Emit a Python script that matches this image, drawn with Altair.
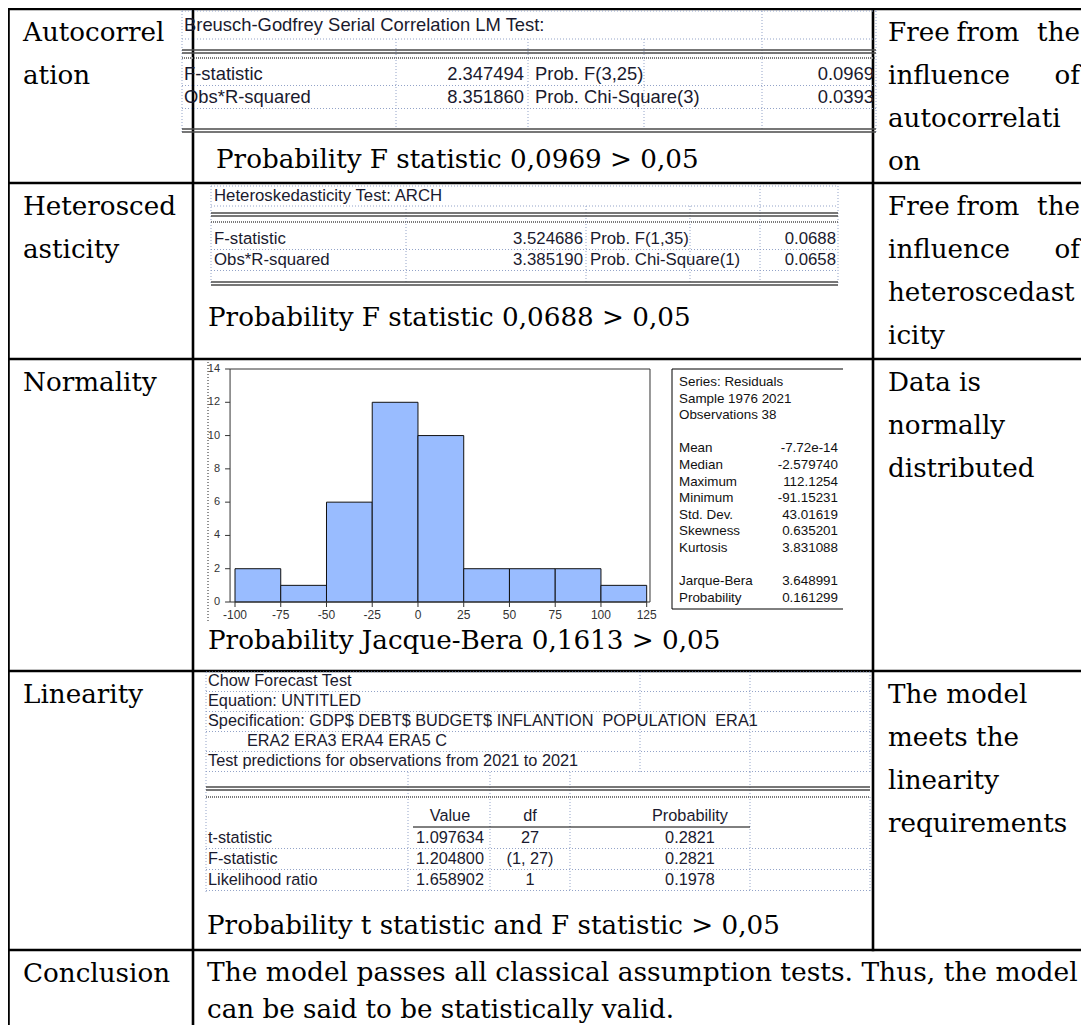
import altair as alt
import pandas as pd

# ---------------- content ----------------
TEST_NAMES = [["Autocorrel", "ation"], ["Heterosced", "asticity"], ["Normality"], ["Linearity"], ["Conclusion"]]
VERDICTS = [
    ["Free from the", "influence of", "autocorrelati", "on"],
    ["Free from the", "influence of", "heteroscedast", "icity"],
    ["Data is", "normally", "distributed"],
    ["The model", "meets the", "linearity", "requirements"],
]
VERDICT_JUSTIFIED = [[True, True, False, False], [True, True, False, False],
                     [False, False, False], [False, False, False, False]]
CAPTIONS = [
    "Probability F statistic 0,0969 > 0,05",
    "Probability F statistic 0,0688 > 0,05",
    "Probability Jacque-Bera 0,1613 > 0,05",
    "Probability t statistic and F statistic > 0,05",
]
CONCLUSION = [
    "The model passes all classical assumption tests. Thus, the model",
    "can be said to be statistically valid.",
]

AC_TITLE = "Breusch-Godfrey Serial Correlation LM Test:"
AC_LABELS = ["F-statistic", "Obs*R-squared"]
AC_VALUES = ["2.347494", "8.351860"]
AC_PROB_LABELS = ["Prob. F(3,25)", "Prob. Chi-Square(3)"]
AC_PROBS = ["0.0969", "0.0393"]

HET_TITLE = "Heteroskedasticity Test: ARCH"
HET_LABELS = ["F-statistic", "Obs*R-squared"]
HET_VALUES = ["3.524686", "3.385190"]
HET_PROB_LABELS = ["Prob. F(1,35)", "Prob. Chi-Square(1)"]
HET_PROBS = ["0.0688", "0.0658"]

HIST_BIN_START = [-100, -75, -50, -25, 0, 25, 50, 75, 100]
HIST_COUNTS = [2, 1, 6, 12, 10, 2, 2, 2, 1]
HIST_BIN_WIDTH = 25
HIST_X_TICKS = [-100, -75, -50, -25, 0, 25, 50, 75, 100, 125]
HIST_Y_TICKS = [0, 2, 4, 6, 8, 10, 12, 14]

STAT_HEADER = ["Series: Residuals", "Sample 1976 2021", "Observations 38"]
STAT_NAMES = ["Mean", "Median", "Maximum", "Minimum", "Std. Dev.", "Skewness", "Kurtosis"]
STAT_VALUES = ["-7.72e-14", "-2.579740", "112.1254", "-91.15231", "43.01619", "0.635201", "3.831088"]
JB_NAMES = ["Jarque-Bera", "Probability"]
JB_VALUES = ["3.648991", "0.161299"]

CHOW_HEADER = [
    "Chow Forecast Test",
    "Equation: UNTITLED",
    "Specification: GDP$ DEBT$ BUDGET$ INFLANTION\u00a0 POPULATION\u00a0 ERA1",
    "ERA2 ERA3 ERA4 ERA5 C",
    "Test predictions for observations from 2021 to 2021",
]
CHOW_COLUMNS = ["Value", "df", "Probability"]
CHOW_STATS = ["t-statistic", "F-statistic", "Likelihood ratio"]
CHOW_VALUES = ["1.097634", "1.204800", "1.658902"]
CHOW_DF = ["27", "(1, 27)", "1"]
CHOW_PROB = ["0.2821", "0.2821", "0.1978"]

# ---------------- layout ----------------
W, H = 1073, 1017
OX, OY = 8, 8
XS = alt.Scale(domain=[OX, OX + W], range=[0, W], nice=False, zero=False)
YS = alt.Scale(domain=[OY, OY + H], range=[0, H], nice=False, zero=False)

ROW_TOPS = [9, 183, 359, 671, 950]
COL_X = [8.5, 193, 873]
TABLE_RIGHT, TABLE_BOTTOM = OX + W, OY + H
LEFT_TEXT_X, RIGHT_TEXT_X, RIGHT_TEXT_END, MID_TEXT_X = 23, 888, 1080, 207
FIRST_LINE, LINE_GAP = 23.5, 43
CONCL_Y = [973, 1010]
CAPTION_POS = [(216, 160), (208, 318), (208, 641), (207, 926)]

SERIF = "DejaVu Serif"
SANS = "Liberation Sans"
EV_COLOR = "#1a1a2e"
SERIF_SIZE = 26.2
TEXT_STYLES = {
    "serif_l": dict(font=SERIF, fontSize=SERIF_SIZE, align="left", color="#000"),
    "serif_w": dict(font=SERIF, fontSize=26.5, align="left", color="#000"),
    "serif_c": dict(font=SERIF, fontSize=SERIF_SIZE, align="center", color="#000"),
    "serif_r": dict(font=SERIF, fontSize=SERIF_SIZE, align="right", color="#000"),
    "acl": dict(font=SANS, fontSize=18.4, align="left", color=EV_COLOR),
    "acr": dict(font=SANS, fontSize=18.4, align="right", color=EV_COLOR),
    "hel": dict(font=SANS, fontSize=16.8, align="left", color=EV_COLOR),
    "her": dict(font=SANS, fontSize=16.8, align="right", color=EV_COLOR),
    "evl": dict(font=SANS, fontSize=16.3, align="left", color=EV_COLOR),
    "evr": dict(font=SANS, fontSize=16.3, align="right", color=EV_COLOR),
    "evc": dict(font=SANS, fontSize=16.3, align="center", color=EV_COLOR),
    "stl": dict(font=SANS, fontSize=13.4, align="left", color="#111"),
    "str": dict(font=SANS, fontSize=13.4, align="right", color="#111"),
}
LINE_STYLES = {
    "grid": dict(color="#000", strokeWidth=2.6, strokeCap="square"),
    "dot": dict(color="#93a3c8", strokeWidth=1, strokeDash=[1, 2]),
    "dbl": dict(color="#4a4a4a", strokeWidth=1.4),
    "dense": dict(color="#7a7a7a", strokeWidth=1.8, strokeDash=[1, 1]),
    "thin": dict(color="#000", strokeWidth=1),
    "dotk": dict(color="#222", strokeWidth=1, strokeDash=[1, 2]),
}

T = []
L = []


def put(style, text, x, y):
    T.append((style, text, x, y))


def hline(style, x1, x2, y):
    L.append((style, x1, x2, y, y))


def vline(style, x, y1, y2):
    L.append((style, x, x, y1, y2))


# ---- main grid ----
for y in ROW_TOPS:
    hline("grid", COL_X[0], TABLE_RIGHT, y)
vline("grid", COL_X[0], ROW_TOPS[0], TABLE_BOTTOM)
vline("grid", COL_X[1], ROW_TOPS[0], TABLE_BOTTOM)
vline("grid", COL_X[2], ROW_TOPS[0], ROW_TOPS[4])

# ---- left & right columns ----
for i, lines in enumerate(TEST_NAMES):
    for j, s in enumerate(lines):
        put("serif_l", s, LEFT_TEXT_X, ROW_TOPS[i] + FIRST_LINE + j * LINE_GAP)

for i, lines in enumerate(VERDICTS):
    for j, s in enumerate(lines):
        y = ROW_TOPS[i] + FIRST_LINE + j * LINE_GAP
        if VERDICT_JUSTIFIED[i][j]:
            words = s.split()
            put("serif_l", words[0], RIGHT_TEXT_X, y)
            put("serif_r", words[-1], RIGHT_TEXT_END, y)
            n = len(words) - 1
            for k, w in enumerate(words[1:-1], 1):
                put("serif_c", w, RIGHT_TEXT_X + (RIGHT_TEXT_END - RIGHT_TEXT_X) * k / n + 4, y)
        else:
            put("serif_l", s, RIGHT_TEXT_X, y)

put("serif_w", CONCLUSION[0], MID_TEXT_X, CONCL_Y[0])
put("serif_l", CONCLUSION[1], MID_TEXT_X, CONCL_Y[1])

for s, (x, y) in zip(CAPTIONS, CAPTION_POS):
    put("serif_l", s, x, y)


# ---- EViews two-row test tables ----
def eviews_block(title, labels, values, plabels, probs, box, cols, ys, tx, styles):
    left, right = box
    top, title_y, sep, dbl, dense, rows, bottom = ys
    lstyle, rstyle = styles
    hline("dot", left, right, top)
    hline("dot", left, right, sep)
    hline("dbl", left, right, dbl)
    hline("dbl", left, right, dbl + 3)
    hline("dense", left, right, dense)
    step = rows[1] - rows[0]
    for r in rows:
        hline("dot", left, right, r + step / 2)
    hline("dbl", left, right, bottom)
    hline("dbl", left, right, bottom + 3)
    vline("dot", left, top, bottom + 3)
    vline("dot", right, top, bottom + 3)
    for c in cols[:-1]:
        vline("dot", c, sep, bottom)
    vline("dot", cols[-1], top, bottom)
    put(lstyle, title, tx[0], title_y)
    for r, a, b, c, d in zip(rows, labels, values, plabels, probs):
        put(lstyle, a, tx[0], r)
        put(rstyle, b, tx[1], r)
        put(lstyle, c, tx[2], r)
        put(rstyle, d, tx[3], r)


eviews_block(AC_TITLE, AC_LABELS, AC_VALUES, AC_PROB_LABELS, AC_PROBS,
             (182, 876), [396, 528, 644, 762],
             (11, 25, 39, 50, 58, [74, 97], 129), (184, 524, 535, 874), ("acl", "acr"))
eviews_block(HET_TITLE, HET_LABELS, HET_VALUES, HET_PROB_LABELS, HET_PROBS,
             (211, 838), [406, 586, 690, 760],
             (186, 196, 206, 213, 222, [239, 260], 282), (214, 583, 590, 836), ("hel", "her"))

# ---- histogram picture frame + stats box ----
vline("dotk", 208, 362, 622)
STAT_BOX = (672, 843, 369, 609)
hline("thin", STAT_BOX[0], STAT_BOX[1], STAT_BOX[2])
hline("thin", STAT_BOX[0], STAT_BOX[1], STAT_BOX[3])
vline("thin", STAT_BOX[0], STAT_BOX[2], STAT_BOX[3])
STAT_LX, STAT_RX, STAT_Y0, STAT_GAP = 679, 838, 382, 16.6
for j, s in enumerate(STAT_HEADER):
    put("stl", s, STAT_LX, STAT_Y0 + j * STAT_GAP)
for j, (a, b) in enumerate(zip(STAT_NAMES, STAT_VALUES)):
    y = STAT_Y0 + (j + 4) * STAT_GAP
    put("stl", a, STAT_LX, y)
    put("str", b, STAT_RX, y)
for j, (a, b) in enumerate(zip(JB_NAMES, JB_VALUES)):
    y = STAT_Y0 + (j + 12) * STAT_GAP
    put("stl", a, STAT_LX, y)
    put("str", b, STAT_RX, y)

# ---- Chow forecast test ----
CH_L, CH_R = 206, 870
CH_HEAD_Y = [681, 701, 721, 741, 761]
CH_HEAD_X = [208, 208, 208, 247, 208]
for s, x, y in zip(CHOW_HEADER, CH_HEAD_X, CH_HEAD_Y):
    put("evl", s, x, y)
hline("dot", CH_L, CH_R, 672)
for y in CH_HEAD_Y:
    hline("dot", CH_L, CH_R, y + 10.5)
hline("dbl", CH_L, CH_R, 787)
hline("dbl", CH_L, CH_R, 790)
hline("dense", CH_L, CH_R, 797)
CH_COL_X = [450, 530, 690]
CH_ROW_Y = [838, 859, 880]
for s, x in zip(CHOW_COLUMNS, CH_COL_X):
    put("evc", s, x, 816)
hline("thin", 413, 750, 827)
for r, a, b, c, d in zip(CH_ROW_Y, CHOW_STATS, CHOW_VALUES, CHOW_DF, CHOW_PROB):
    put("evl", a, 208, r)
    put("evc", b, CH_COL_X[0], r)
    put("evc", c, CH_COL_X[1], r)
    put("evc", d, CH_COL_X[2], r)
    hline("dot", CH_L, CH_R, r + 10.5)
vline("dot", CH_L, 672, 892)
for c in [408, 490, 570, 750]:
    vline("dot", c, 772, 892)
for c in [640, 750, CH_R]:
    vline("dot", c, 672, 772)
vline("dot", CH_R, 797, 892)


# ---------------- build table layer ----------------
def x_enc(field):
    return alt.X(field, scale=XS, axis=None)


def y_enc(field):
    return alt.Y(field, scale=YS, axis=None)


table_layers = []
ldf = pd.DataFrame(L, columns=["s", "x", "x2", "y", "y2"])
for st, props in LINE_STYLES.items():
    sub = ldf[ldf.s == st]
    if len(sub):
        table_layers.append(
            alt.Chart(sub).mark_rule(**props).encode(
                x=x_enc("x:Q"), x2="x2:Q", y=y_enc("y:Q"), y2="y2:Q"))
tdf = pd.DataFrame(T, columns=["s", "t", "x", "y"])
for st, props in TEXT_STYLES.items():
    sub = tdf[tdf.s == st]
    if len(sub):
        table_layers.append(
            alt.Chart(sub).mark_text(baseline="middle", **props).encode(
                x=x_enc("x:Q"), y=y_enc("y:Q"), text="t:N"))
table = alt.layer(*table_layers)

# ---------------- histogram (own scales) ----------------
HX = alt.Scale(domain=[-100, 125], range=[235 - OX, 646.7 - OX], nice=False, zero=False)
HY = alt.Scale(domain=[0, 14], range=[602 - OY, 369 - OY], nice=False, zero=False)
HX_EDGE = [-102.7, 126.8]

hist_df = pd.DataFrame({"start": HIST_BIN_START, "count": HIST_COUNTS})
hist_df["end"] = hist_df["start"] + HIST_BIN_WIDTH

bars = alt.Chart(hist_df).mark_rect(fill="#99bcff", stroke="#111", strokeWidth=1).encode(
    x=alt.X("start:Q", scale=HX, axis=None), x2="end:Q",
    y=alt.Y("count:Q", scale=HY, axis=None), y2=alt.datum(0))
frame = alt.Chart(hist_df.head(1)).mark_rect(fillOpacity=0, stroke="#333", strokeWidth=1).encode(
    x=alt.datum(HX_EDGE[0]), x2=alt.datum(HX_EDGE[1]), y=alt.datum(0), y2=alt.datum(14))
xt_df = pd.DataFrame({"v": HIST_X_TICKS, "lab": [str(v) for v in HIST_X_TICKS]})
yt_df = pd.DataFrame({"v": HIST_Y_TICKS, "lab": [str(v) for v in HIST_Y_TICKS]})
xticks = alt.Chart(xt_df).mark_rule(color="#333", y2Offset=5).encode(
    x="v:Q", y=alt.datum(0), y2=alt.datum(0))
yticks = alt.Chart(yt_df).mark_rule(color="#333", x2Offset=-5).encode(
    y="v:Q", x=alt.datum(HX_EDGE[0]), x2=alt.datum(HX_EDGE[0]))
xlabels = alt.Chart(xt_df).mark_text(font=SANS, fontSize=12, color="#333", dy=13, baseline="middle").encode(
    x="v:Q", y=alt.datum(0), text="lab:N")
ylabels = alt.Chart(yt_df).mark_text(font=SANS, fontSize=11, color="#333", dx=-10, align="right",
                                     baseline="middle").encode(
    y="v:Q", x=alt.datum(HX_EDGE[0]), text="lab:N")
hist = alt.layer(bars, frame, xticks, yticks, xlabels, ylabels)

chart = alt.layer(table, hist).resolve_scale(x="independent", y="independent").properties(
    width=W, height=H, padding=0, background="white",
    autosize=alt.AutoSizeParams(type="none"),
).configure_view(stroke=None)

chart.save("out.html", embed_options={"renderer": "svg", "actions": False})
